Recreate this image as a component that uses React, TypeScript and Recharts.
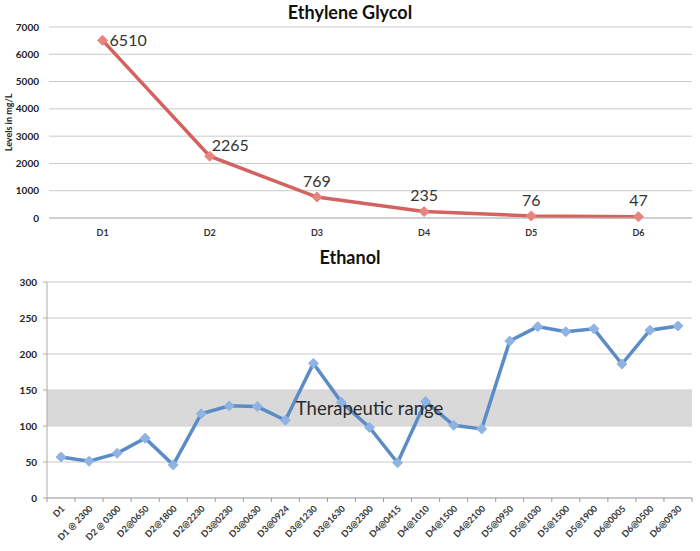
import React from 'react';
import {
  LineChart,
  Line,
  XAxis,
  YAxis,
  CartesianGrid,
  ReferenceArea,
  LabelList,
} from 'recharts';

const days = ['D1', 'D2', 'D3', 'D4', 'D5', 'D6'];
const glycolLevels = [6510, 2265, 769, 235, 76, 47];
const glycolTicks = [0, 1000, 2000, 3000, 4000, 5000, 6000, 7000];

const ethanolTimes = [
  'D1', 'D1 @ 2300', 'D2 @ 0300', 'D2@0650', 'D2@1800', 'D2@2230',
  'D3@0230', 'D3@0630', 'D3@0924', 'D3@1230', 'D3@1630', 'D3@2300',
  'D4@0415', 'D4@1010', 'D4@1500', 'D4@2100', 'D5@0950', 'D5@1030',
  'D5@1500', 'D5@1900', 'D6@0005', 'D6@0500', 'D6@0930',
];
const ethanolLevels = [
  57, 51, 62, 83, 46, 117, 128, 127, 108, 187, 133, 98,
  49, 134, 101, 96, 218, 238, 231, 235, 186, 233, 239,
];
const ethanolTicks = [0, 50, 100, 150, 200, 250, 300];
const therapeuticRange = [100, 150];

const glycolData = days.map((d, i) => ({ name: d, value: glycolLevels[i] }));
const ethanolData = ethanolTimes.map((t, i) => ({ name: t, value: ethanolLevels[i] }));

const FONT = 'Lato, "Open Sans", sans-serif';
const GRID = '#c9c9c9';
const RED = '#d4625e';
const RED_DOT = '#e8837f';
const BLUE = '#5b8cc8';
const BLUE_DOT = '#8fb4e3';

const CHART_W = 700;
const PLOT_LEFT_B = 47;
const PLOT_RIGHT_MARGIN = 8;

const Diamond = ({ cx, cy, fill }: any) => {
  if (cx == null || cy == null) return null;
  const r = 5;
  return (
    <path
      d={`M${cx},${cy - r}L${cx + r},${cy}L${cx},${cy + r}L${cx - r},${cy}Z`}
      fill={fill}
      stroke={fill}
      strokeWidth={1}
    />
  );
};

const GlycolLabel = (props: any) => {
  const { x, y, value } = props;
  const i = glycolLevels.indexOf(value);
  let tx = x;
  let ty = y - 16;
  let anchor: 'start' | 'middle' = 'middle';
  if (i === 0) {
    tx = x + 7;
    ty = y;
    anchor = 'start';
  } else if (i === 1) {
    tx = x + 2;
    ty = y - 11;
    anchor = 'start';
  }
  return (
    <text x={tx} y={ty} dy="0.35em" textAnchor={anchor} fontSize={16} fill="#333" fontFamily={FONT}>
      {value}
    </text>
  );
};

const YTitle = ({ viewBox }: any) => {
  const cx = 9;
  const cy = viewBox.y + viewBox.height / 2;
  return (
    <text
      x={cx}
      y={cy}
      transform={`rotate(-90 ${cx} ${cy})`}
      textAnchor="middle"
      dy="0.35em"
      fontSize={9}
      fontWeight={700}
      fill="#222"
      fontFamily={FONT}
    >
      Levels in mg/L
    </text>
  );
};

const EthanolTick = ({ x, y, payload, index }: any) => {
  const plotW = CHART_W - PLOT_LEFT_B - PLOT_RIGHT_MARGIN;
  const half = plotW / ethanolTimes.length / 2;
  const px = x + 2;
  const py = y + 9;
  return (
    <g>
      <line x1={x - half} y1={y} x2={x - half} y2={y + 4} stroke="#999" />
      {index === ethanolTimes.length - 1 && (
        <line x1={x + half} y1={y} x2={x + half} y2={y + 4} stroke="#999" />
      )}
      <text
        x={px}
        y={py}
        dy="0.35em"
        transform={`rotate(-45 ${px} ${py})`}
        textAnchor="end"
        fontSize={9}
        fontWeight={700}
        fill="#333"
        fontFamily={FONT}
      >
        {payload.value}
      </text>
    </g>
  );
};

const titleStyle: React.CSSProperties = {
  position: 'absolute',
  left: 0,
  width: CHART_W,
  textAlign: 'center',
  fontFamily: FONT,
  fontWeight: 700,
  fontSize: 18,
  color: '#111',
  lineHeight: '22px',
};

export default function App() {
  return (
    <div
      style={{
        position: 'absolute',
        left: 0,
        top: 0,
        width: 700,
        height: 551,
        background: '#fff',
        fontFamily: FONT,
      }}
    >
      <div style={{ ...titleStyle, top: 1 }}>Ethylene Glycol</div>
      <div style={{ position: 'absolute', left: 0, top: 0 }}>
        <LineChart
          width={CHART_W}
          height={245}
          data={glycolData}
          margin={{ top: 27, right: PLOT_RIGHT_MARGIN, bottom: 7, left: 0 }}
        >
          <CartesianGrid vertical={false} stroke={GRID} />
          <XAxis
            dataKey="name"
            scale="band"
            height={20}
            tickLine={false}
            tickSize={0}
            tickMargin={12}
            axisLine={{ stroke: '#bbb' }}
            tick={{ fontSize: 9, fontWeight: 700, fill: '#333', fontFamily: FONT }}
          />
          <YAxis
            width={49}
            domain={[0, 7000]}
            ticks={glycolTicks}
            axisLine={false}
            tickLine={false}
            tickSize={6}
            tickMargin={4}
            tick={{ fontSize: 10, fontWeight: 700, fill: '#222', fontFamily: FONT }}
            label={{ content: YTitle }}
          />
          <Line
            dataKey="value"
            stroke={RED}
            strokeWidth={3.5}
            isAnimationActive={false}
            dot={(p: any) => <Diamond key={`g${p.index}`} {...p} fill={RED_DOT} />}
            activeDot={false}
          >
            <LabelList dataKey="value" content={GlycolLabel} />
          </Line>
        </LineChart>
      </div>

      <div style={{ ...titleStyle, top: 246 }}>Ethanol</div>
      <div style={{ position: 'absolute', left: 0, top: 245 }}>
        <LineChart
          width={CHART_W}
          height={306}
          data={ethanolData}
          margin={{ top: 37, right: PLOT_RIGHT_MARGIN, bottom: 0, left: 0 }}
        >
          <CartesianGrid vertical={false} stroke={GRID} />
          <ReferenceArea
            y1={therapeuticRange[0]}
            y2={therapeuticRange[1]}
            fill="#d9d9d9"
            fillOpacity={1}
            stroke="none"
            label={{
              value: 'Therapeutic range',
              position: 'center',
              fontSize: 18.5,
              fill: '#2a2a2a',
              fontFamily: FONT,
            }}
          />
          <XAxis
            dataKey="name"
            scale="band"
            height={53}
            interval={0}
            tickLine={false}
            tickSize={0}
            tickMargin={0}
            axisLine={{ stroke: '#aaa' }}
            tick={<EthanolTick />}
          />
          <YAxis
            width={PLOT_LEFT_B}
            domain={[0, 300]}
            ticks={ethanolTicks}
            axisLine={{ stroke: '#aaa' }}
            tickLine={{ stroke: '#aaa' }}
            tickSize={4}
            tickMargin={6}
            tick={{ fontSize: 10, fontWeight: 700, fill: '#222', fontFamily: FONT }}
          />
          <Line
            dataKey="value"
            stroke={BLUE}
            strokeWidth={3.5}
            isAnimationActive={false}
            dot={(p: any) => <Diamond key={`e${p.index}`} {...p} fill={BLUE_DOT} />}
            activeDot={false}
          />
        </LineChart>
      </div>
    </div>
  );
}
